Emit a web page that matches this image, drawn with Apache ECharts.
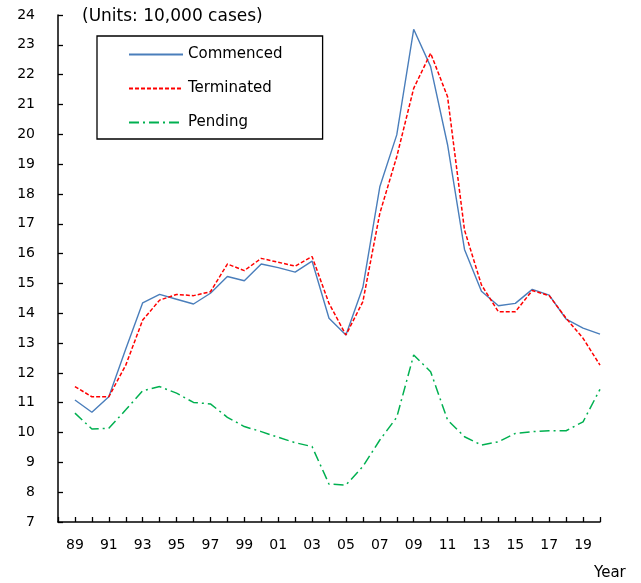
<!DOCTYPE html>
<html>
<head>
<meta charset="utf-8">
<script src="https://cdn.jsdelivr.net/npm/echarts@6/dist/echarts.min.js"></script>
<style>
  html, body { margin: 0; padding: 0; background: #fff; }
  #chart { width: 641px; height: 583px; }
</style>
</head>
<body>
<div id="chart"></div>
<script>
// years 1989 - 2020
const years = [1989, 1990, 1991, 1992, 1993, 1994, 1995, 1996, 1997, 1998, 1999, 2000,
  2001, 2002, 2003, 2004, 2005, 2006, 2007, 2008, 2009, 2010, 2011, 2012,
  2013, 2014, 2015, 2016, 2017, 2018, 2019, 2020];

// units: 10,000 cases
const commenced = [11.09, 10.68, 11.2, 12.8, 14.35, 14.63, 14.47, 14.31, 14.67, 15.23, 15.09, 15.65,
  15.53, 15.38, 15.75, 13.83, 13.27, 14.87, 18.24, 19.98, 23.52, 22.27, 19.65, 16.14,
  14.74, 14.25, 14.33, 14.8, 14.61, 13.8, 13.5, 13.3];
const terminated = [11.54, 11.2, 11.2, 12.26, 13.77, 14.44, 14.63, 14.59, 14.72, 15.65, 15.43, 15.84,
  15.71, 15.58, 15.9, 14.33, 13.27, 14.39, 17.35, 19.25, 21.54, 22.72, 21.26, 16.79,
  14.95, 14.05, 14.05, 14.76, 14.59, 13.83, 13.16, 12.26];
const pending = [10.65, 10.12, 10.14, 10.76, 11.4, 11.54, 11.32, 11.01, 10.96, 10.51, 10.2, 10.03,
  9.84, 9.66, 9.53, 8.27, 8.24, 8.86, 9.75, 10.51, 12.6, 12.04, 10.42, 9.86,
  9.58, 9.69, 9.97, 10.03, 10.06, 10.06, 10.36, 11.45];

const font = "DejaVu Sans";

function pairs(vals) {
  return years.map((y, i) => [y, vals[i]]);
}

const chart = echarts.init(document.getElementById("chart"));

const option = {
  backgroundColor: "#fff",
  animation: false,
  title: [
    {
      text: "(Units: 10,000 cases)",
      left: 82,
      top: 8,
      padding: 0,
      textStyle: { fontFamily: font, fontSize: 17, fontWeight: "normal", color: "#000" }
    },
    {
      text: "Year",
      left: 594,
      top: 566,
      padding: 0,
      textStyle: { fontFamily: font, fontSize: 15, fontWeight: "normal", color: "#000" }
    }
  ],
  legend: {
    orient: "vertical",
    left: 97,
    top: 36,
    padding: [11, 40, 9, 31],
    itemWidth: 54,
    itemHeight: 14,
    itemGap: 19,
    itemTextGap: 7,
    borderColor: "#000",
    borderWidth: 1.3,
    itemStyle: { opacity: 0 }, // hide the marker dot, keep the line sample
    textStyle: { fontFamily: font, fontSize: 15, color: "#000" },
    data: ["Commenced", "Terminated", "Pending"]
  },
  grid: {
    left: 58,
    right: 41,
    top: 15,
    bottom: 61
  },
  xAxis: {
    type: "value",
    min: 1988,
    max: 2020,
    interval: 1,
    splitLine: { show: false },
    axisLine: { lineStyle: { color: "#000", width: 1.5 } },
    axisTick: { inside: true, length: 5, lineStyle: { color: "#000", width: 1.3 } },
    axisLabel: {
      margin: 16,
      fontFamily: font,
      fontSize: 14,
      color: "#000",
      formatter: v => (v % 2 === 1 ? String(v).slice(2) : "")
    }
  },
  yAxis: {
    type: "value",
    min: 7,
    max: 24,
    interval: 1,
    splitLine: { show: false },
    axisLine: { show: true, lineStyle: { color: "#000", width: 1.5 } },
    axisTick: { show: true, inside: true, length: 5, lineStyle: { color: "#000", width: 1.3 } },
    axisLabel: { margin: 23, fontFamily: font, fontSize: 14, color: "#000" }
  },
  series: [
    {
      name: "Commenced",
      type: "line",
      symbol: "none",
      data: pairs(commenced),
      lineStyle: { color: "#4A7EBB", width: 1.4, type: "solid" },
      itemStyle: { color: "#4A7EBB" }
    },
    {
      name: "Terminated",
      type: "line",
      symbol: "none",
      data: pairs(terminated),
      lineStyle: { color: "#FF0000", width: 1.5, type: [4, 2] },
      itemStyle: { color: "#FF0000" }
    },
    {
      name: "Pending",
      type: "line",
      symbol: "none",
      data: pairs(pending),
      lineStyle: { color: "#00B050", width: 1.5, type: [10, 4, 2, 4] },
      itemStyle: { color: "#00B050" }
    }
  ]
};

chart.setOption(option);
</script>
</body>
</html>
